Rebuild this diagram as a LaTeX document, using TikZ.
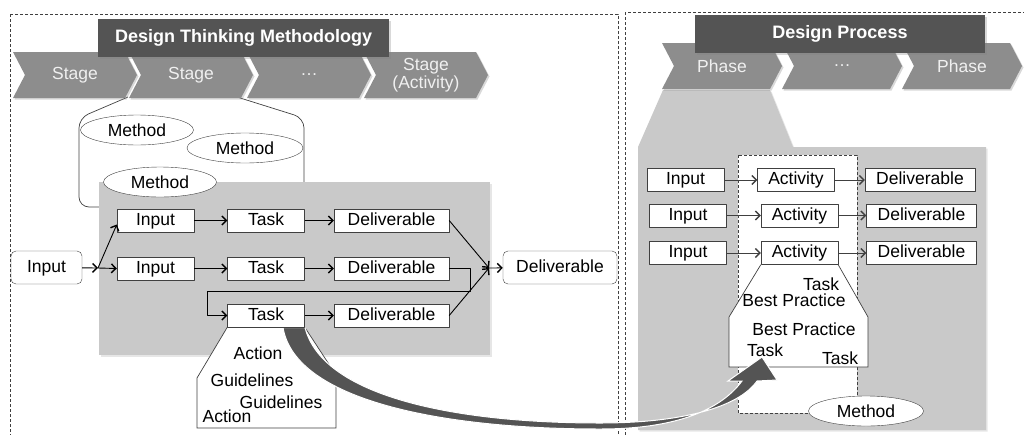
\documentclass[tikz,border=0pt]{standalone}
\usepackage{fontspec}
\setmainfont{Liberation Sans}
\usetikzlibrary{shapes.symbols,shapes.geometric,arrows.meta,shadows,backgrounds}

\definecolor{titlegray}{HTML}{545454}
\definecolor{chevgray}{HTML}{8D8D8D}
\definecolor{panelgray}{HTML}{C9C9C9}
\definecolor{linegray}{HTML}{404040}

\begin{document}
\begin{tikzpicture}[x=1pt, y=-1pt, line join=round,
    every node/.style={font=\fontsize{17.5}{19}\selectfont},
    box/.style={draw=linegray, fill=white, minimum height=23pt, inner sep=0pt, text height=12.5pt, text depth=3.5pt},
    endbox/.style={box, rounded corners=5pt, minimum height=33pt},
    methodell/.style={ellipse, draw=linegray, fill=white, minimum width=113pt, minimum height=30pt, inner sep=0pt},
    chevron/.style={signal, signal to=east, signal from=west, signal pointer angle=125,
        fill=chevgray, text=white!94!black, minimum height=46pt, inner sep=0pt,
        drop shadow={opacity=0.3, shadow xshift=1.5pt, shadow yshift=-1.5pt}},
    titlebox/.style={fill=titlegray, text=white, minimum height=38pt, inner sep=0pt,
        font=\fontsize{18}{20}\selectfont\bfseries,
        drop shadow={opacity=0.3, shadow xshift=1.5pt, shadow yshift=-1.5pt}},
    flow/.style={-{Straight Barb[length=4.5pt, width=9pt, line width=1.4pt]}, draw=black, line width=0.9pt},
    frame/.style={densely dashed, draw=linegray, line width=0.6pt}
]
\useasboundingbox (0,0) rectangle (1024,434);

% Design thinking stages
\foreach \i/\x/\t in {1/75/Stage, 2/191/Stage, 3/309/{\dots}} {
    \node[chevron, minimum width=124pt] (st\i) at (\x,75) {\t};
}
\node[chevron, minimum width=124pt, align=center, font=\fontsize{17.5}{18}\selectfont] (st4) at (426,75) {Stage\\(Activity)};
\node[titlebox, minimum width=291pt] (dtm) at (243.5,38) {Design Thinking Methodology};

% Design process phases
\foreach \i/\x/\t in {1/722/Phase, 2/842/{\dots}, 3/962/Phase} {
    \node[chevron, minimum width=120pt] (ph\i) at (\x,66) {\t};
}
\node[titlebox, minimum width=290pt] (dp) at (840,34) {Design Process};

% Methods
\node[methodell] (m1) at (137,130) {Method};
\node[methodell, minimum width=116pt] (m2) at (245,148) {Method};
\node[methodell] (m3) at (160,182) {Method};

% Left flow
\node[endbox, minimum width=71pt] (inL) at (46.5,267.5) {Input};
\node[endbox, minimum width=114pt] (out) at (560,267.5) {Deliverable};
\foreach \r/\y in {1/220.5, 2/268.5} {
    \node[box, minimum width=77pt] (in\r) at (155.5,\y) {Input};
}
\foreach \r/\y in {1/220.5, 2/268.5, 3/315.5} {
    \node[box, minimum width=77pt] (task\r) at (266,\y) {Task};
    \node[box, minimum width=115pt] (del\r) at (391.5,\y) {Deliverable};
}
\coordinate (split) at (98,268);
\coordinate (join) at (489,268);
\coordinate (loopr) at (470,291.5);
\coordinate (loopl) at (207,291.5);

\draw[flow] (inL) -- (split);
\draw[flow] (split) -- ([yshift=-4pt]in1.west);
\draw[flow] (split) -- (in2.west);
\foreach \r in {1,2} {
    \draw[flow] (in\r) -- (task\r);
}
\foreach \r in {1,2,3} {
    \draw[flow] (task\r) -- (del\r);
}
\draw[flow] (del1.east) -- (join);
\draw[flow] (del3.east) -- (join);
\draw[flow] (join) -- (out);
\draw[flow] (del2.east) -| (loopr) -- (loopl) |- (task3.west);

% Task callout texts
\node (ac1) at (258,353) {Action};
\node (gl1) at (252,380) {Guidelines};
\node (gl2) at (281,402) {Guidelines};
\node (ac2) at (227,416) {Action};

% Right flow
\foreach \r/\y/\xi/\xa/\xd in {1/180/685.5/796/920, 2/215.5/688/799.5/921.5, 3/253/688/799.5/921.5} {
    \node[box, minimum width=77pt] (pin\r) at (\xi,\y) {Input};
    \node[box, minimum width=77pt] (act\r) at (\xa,\y) {Activity};
    \node[box, minimum width=110pt] (pdel\r) at (\xd,\y) {Deliverable};
    \draw[flow, draw=linegray] (pin\r) -- (act\r);
    \draw[flow, draw=linegray] (act\r) -- (pdel\r);
}
\node[methodell, minimum width=115pt] (m4) at (866,411) {Method};

% Activity callout texts
\node (tk1) at (821,284) {Task};
\node (bp1) at (794,300) {Best Practice};
\node (bp2) at (804,329) {Best Practice};
\node (tk2) at (765,350) {Task};
\node (tk3) at (840,358) {Task};

\begin{pgfonlayer}{background}
    % Frames
    \begin{scope}
        \clip (0,0) rectangle (1024,434);
        \draw[frame] (10,14) rectangle (618,450);
        \draw[frame] (625,12) rectangle (1040,450);
    \end{scope}
    % Stage bracket
    \draw[linegray, line width=0.7pt, rounded corners=10pt] (128,97) -- (79,118) -- (79,207) -- (100,207);
    \draw[linegray, line width=0.7pt, rounded corners=10pt] (237,97) -- (304,118) -- (304,190);
    % Gray areas
    \fill[panelgray, drop shadow={opacity=0.2, shadow xshift=1.5pt, shadow yshift=-1.5pt}] (99,182) rectangle (490,355);
    \fill[panelgray, drop shadow={opacity=0.2, shadow xshift=1.5pt, shadow yshift=-1.5pt}]
        (663,90) -- (770,90) -- (793,147) -- (986,147) -- (986,430) -- (638,430) -- (638,147) -- cycle;
    \draw[densely dashed, draw=linegray, fill=white, line width=0.6pt] (738,155) rectangle (857,413);
    % Callouts
    \draw[linegray, fill=white, line width=0.7pt] (task3.south west) -- (197,378) -- (197,428) -- (336,428) -- (336,375) -- (task3.south east);
    \draw[linegray, fill=white, line width=0.7pt] (act3.south west) -- (729,317) -- (729,367) -- (868,367) -- (868,317) -- (act3.south east);
    % Big arrow
    \fill[titlegray, draw=white, line width=1pt]
        (283,327.5) .. controls (295,400) and (440,429) .. (600,429)
        .. controls (680,429) and (722,408) .. (742,381)
        -- (728,381) -- (762,357) -- (777,380) -- (757,381)
        .. controls (738,408) and (680,423) .. (600,423)
        .. controls (450,423) and (322,395) .. (305,327.5) -- cycle;
\end{pgfonlayer}
\end{tikzpicture}
\end{document}
